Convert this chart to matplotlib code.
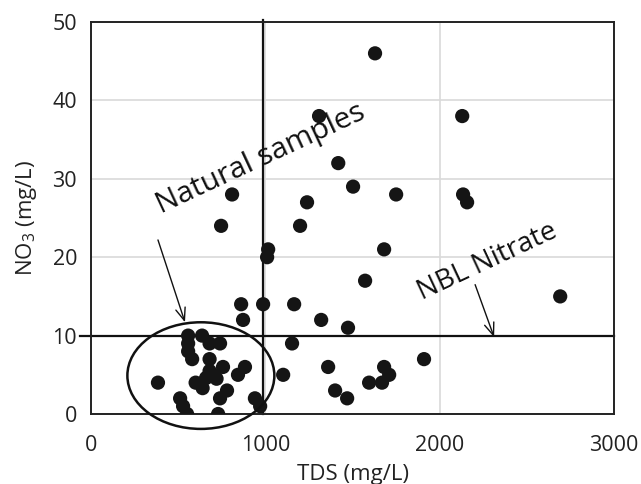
import matplotlib
matplotlib.use("Agg")
import matplotlib.pyplot as plt
from matplotlib.patches import Ellipse

plt.rcParams['font.family'] = ['Open Sans', 'DejaVu Sans']
plt.rcParams['mathtext.fontset'] = 'custom'
plt.rcParams['mathtext.rm'] = 'Open Sans'
plt.rcParams['mathtext.it'] = 'Open Sans'
plt.rcParams['mathtext.default'] = 'regular'

# TDS (mg/L) and NO3 (mg/L)
tds = [1629, 1308, 2129, 1418, 1503, 1750, 2134, 2157, 1239, 1199,
       1016, 1010, 1681, 1572, 2691, 987, 1165, 1320, 1474, 1153,
       1910, 1360, 1102, 1681, 1710, 1595, 1669, 1400, 1469,
       809, 746, 861, 872,
       384, 511, 528, 551, 557, 637, 557, 557, 580, 680, 740, 680,
       757, 700, 660, 600, 640, 780, 740, 729, 883, 843, 940, 970,
       720, 680]
no3 = [46, 38, 38, 32, 29, 28, 28, 27, 27, 24,
       21, 20, 21, 17, 15, 14, 14, 12, 11, 9,
       7, 6, 5, 6, 5, 4, 4, 3, 2,
       28, 24, 14, 12,
       4, 2, 1, 0, 10, 10, 9, 8, 7, 9, 9, 7,
       6, 5, 4.6, 4, 3.3, 3, 2, 0, 6, 5, 2, 1,
       4.5, 5.5]

x_ticks = [0, 1000, 2000, 3000]
y_ticks = [0, 10, 20, 30, 40, 50]
nbl_nitrate = 10
tds_limit = 985

fig = plt.figure(figsize=(6.41, 4.84), dpi=100)
ax = fig.add_axes([0.142, 0.1446, 0.816, 0.81])

ax.set_xlim(0, 3000)
ax.set_ylim(0, 50)
ax.set_xticks(x_ticks)
ax.set_yticks(y_ticks)
ax.grid(True, color='#d9d9d9', lw=1.2)
ax.set_axisbelow(True)
ax.tick_params(axis='x', length=0, labelsize=15.5, pad=15, colors='#222222')
ax.tick_params(axis='y', length=0, labelsize=15.5, pad=10, colors='#222222')
for s in ax.spines.values():
    s.set_color('#222222')
    s.set_linewidth(1.4)

ax.set_xlabel('TDS (mg/L)', fontsize=16, labelpad=6, color='#222222')
ax.set_ylabel('NO$_3$ (mg/L)', fontsize=16, labelpad=10, color='#222222')

# threshold lines
ax.plot([-65, 3000], [nbl_nitrate, nbl_nitrate], color='#111111', lw=1.6, clip_on=False, zorder=2)
ax.plot([tds_limit, tds_limit], [0, 50.3], color='#111111', lw=1.6, clip_on=False, zorder=2)

ax.scatter(tds, no3, s=105, color='#151515', edgecolors='none', zorder=3)

ell = Ellipse((630, 4.9), 843, 13.6, fill=False, ec='#111111', lw=1.8,
              clip_on=False, zorder=4)
ax.add_patch(ell)

ax.text(975, 32.5, 'Natural samples', rotation=25, fontsize=21.5,
        ha='center', va='center', color='#111111', rotation_mode='anchor')
ax.annotate('', xy=(539, 11.7), xytext=(384, 22.2),
            arrowprops=dict(arrowstyle='->,head_length=0.9,head_width=0.35',
                            color='#111111', lw=1.0, shrinkA=0, shrinkB=0))

ax.text(2272, 19.4, 'NBL Nitrate', rotation=25, fontsize=20,
        ha='center', va='center', color='#111111', rotation_mode='anchor')
ax.annotate('', xy=(2312, 9.8), xytext=(2203, 16.5),
            arrowprops=dict(arrowstyle='->,head_length=0.9,head_width=0.35',
                            color='#111111', lw=1.0, shrinkA=0, shrinkB=0))

fig.savefig('out.png', dpi=100)
